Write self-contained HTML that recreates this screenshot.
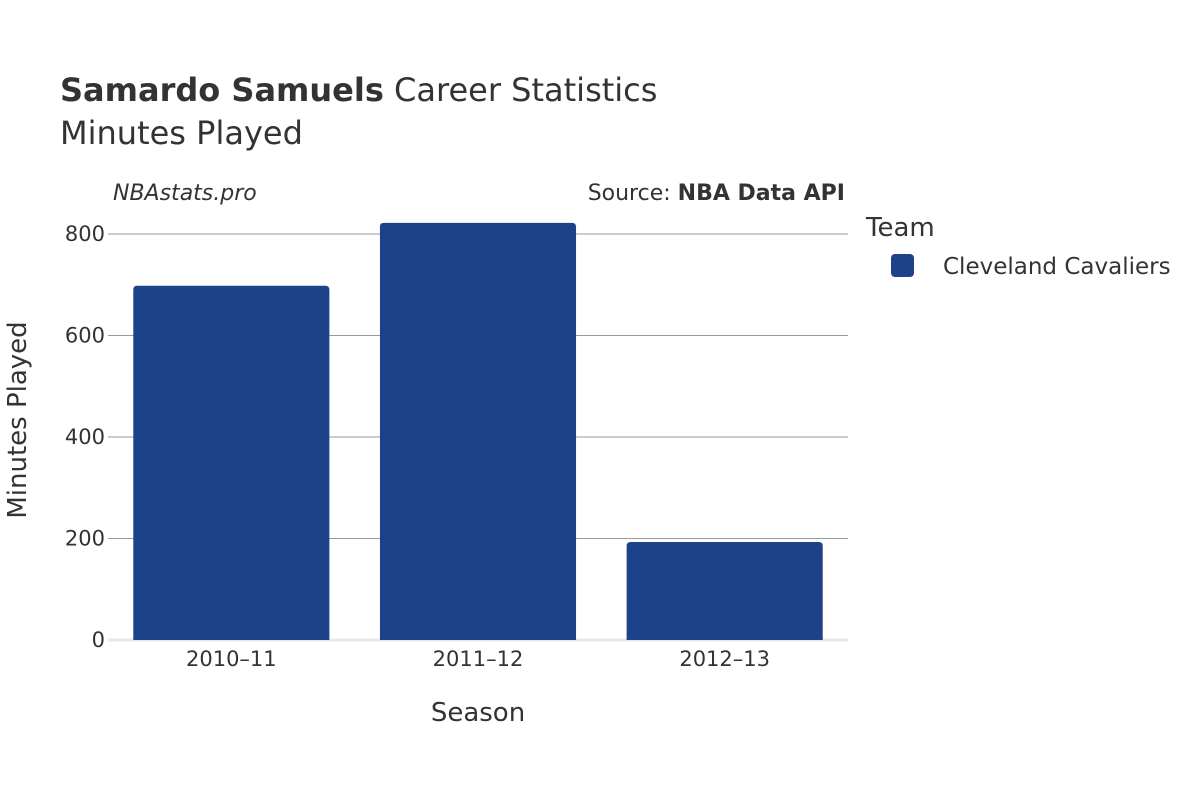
<!DOCTYPE html>
<html><head><meta charset="utf-8"><style>
body{margin:0;background:#fff}
svg text{font-family:"DejaVu Sans","Liberation Sans",sans-serif;fill:#333}
</style></head><body>
<svg id="chart" width="1200" height="800">
<text x="60" y="101" font-size="32"><tspan font-weight="bold">Samardo Samuels</tspan> Career Statistics</text>
<text x="60" y="144" font-size="32">Minutes Played</text>
<text x="113" y="200" font-size="22" font-style="italic">NBAstats.pro</text>
<text x="845" y="200" font-size="22" text-anchor="end">Source: <tspan font-weight="bold">NBA Data API</tspan></text>
<g id="grid"></g><g id="bars"></g><g id="xticks"></g>
<text x="478" y="721" font-size="26" text-anchor="middle">Season</text>
<text transform="translate(26,420) rotate(-90)" font-size="26" text-anchor="middle">Minutes Played</text>
<text x="866" y="236" font-size="26">Team</text>
<rect x="891" y="254" width="23" height="23" rx="4" fill="#1d428a"/>
<text x="943" y="274" font-size="23">Cleveland Cavaliers</text>
</svg>
<script>
const seasons=["2010–11","2011–12","2012–13"];
const minutes=[698,822,193];
const yTicks=[0,200,400,600,800];
const NS="http://www.w3.org/2000/svg";
const x0=108,x1=848,y0=640,yTop=234,yMax=800;
const y=v=>y0-(v/yMax)*(y0-yTop);
const band=(x1-x0)/seasons.length;
const grid=document.getElementById('grid');
yTicks.forEach(t=>{
  const l=document.createElementNS(NS,'line');
  
  
  l.setAttribute('x1',x0);l.setAttribute('x2',x1);l.setAttribute('y1',y(t));l.setAttribute('y2',y(t));
  l.setAttribute('stroke',t===0?'#e8e8ee':'#999');l.setAttribute('stroke-width',t===0?3:1);
  grid.appendChild(l);
  const tx=document.createElementNS(NS,'text');
  
  
  tx.setAttribute('x',x0-3);tx.setAttribute('y',y(t)+7);tx.setAttribute('font-size','21');tx.setAttribute('text-anchor','end');
  tx.textContent=t;grid.appendChild(tx);
});
const bars=document.getElementById('bars'),xt=document.getElementById('xticks');
seasons.forEach((s,i)=>{
  const bw=band*0.795,bx=x0+band*i+(band-bw)/2;
  const p=document.createElementNS(NS,'path');
  
  
  const top=y(minutes[i]),r=4;
  p.setAttribute('d',`M${bx},${y0}V${top+r}Q${bx},${top} ${bx+r},${top}H${bx+bw-r}Q${bx+bw},${top} ${bx+bw},${top+r}V${y0}Z`);
  p.setAttribute('fill','#1d428a');
  bars.appendChild(p);
  const tx=document.createElementNS(NS,'text');
  
  
  tx.setAttribute('x',x0+band*(i+0.5));tx.setAttribute('y',666);tx.setAttribute('font-size','21');tx.setAttribute('text-anchor','middle');
  tx.textContent=s;xt.appendChild(tx);
});
</script>
</body></html>
